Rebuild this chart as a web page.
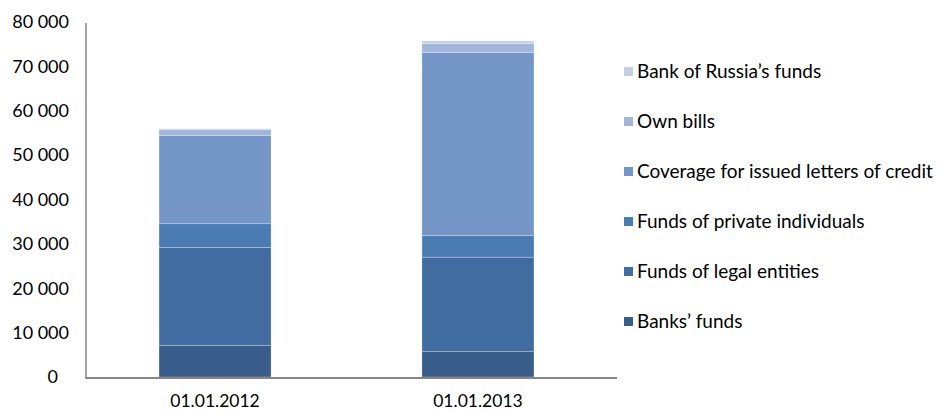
<!DOCTYPE html>
<html>
<head>
<meta charset="utf-8">
<script src="https://cdn.jsdelivr.net/npm/d3@7"></script>
<style>
  body { margin: 0; background: #fff; }
  text { font-family: Lato, "Open Sans", sans-serif; fill: #000; }
</style>
</head>
<body>
<div id="chart"></div>
<script>
const width = 947;
const height = 412;
const margin = { top: 22, right: 330, bottom: 35, left: 87 };
const axisEnd = 617;

// data, bottom segment first
const dates = ["01.01.2012", "01.01.2013"];
const seriesNames = [
  "Banks’ funds",
  "Funds of legal entities",
  "Funds of private individuals",
  "Coverage for issued letters of credit",
  "Own bills",
  "Bank of Russia’s funds",
];
const banksFunds = [7150, 5800];
const legalEntities = [22050, 21200];
const privateIndividuals = [5350, 4850];
const lettersOfCredit = [19900, 41250];
const ownBills = [1350, 2050];
const bankOfRussia = [150, 600];
const yTicks = [0, 10000, 20000, 30000, 40000, 50000, 60000, 70000, 80000];

const colors = ["#385d8a", "#416ca0", "#4a7bb3", "#7396c6", "#a3b5d8", "#c5d0e6"];

const seriesValues = [banksFunds, legalEntities, privateIndividuals, lettersOfCredit, ownBills, bankOfRussia];
const rows = dates.map((d, i) => {
  const r = { date: d };
  seriesNames.forEach((s, j) => (r[s] = seriesValues[j][i]));
  return r;
});
const stacked = d3.stack().keys(seriesNames)(rows);

const svg = d3
  .select("#chart")
  .append("svg")
  .attr("width", width)
  .attr("height", height);

const xScale = d3
  .scaleBand()
  .domain(dates)
  .range([margin.left, 606])
  .paddingInner(0.574)
  .paddingOuter(0.274);

const yScale = d3
  .scaleLinear()
  .domain([0, 80000])
  .range([height - margin.bottom, margin.top]);

const fmt = (v) => d3.format(",")(v).replace(/,/g, " ");

// y tick labels (no tick marks)
svg
  .append("g")
  .selectAll("text")
  .data(yTicks)
  .join("text")
  .attr("x", (d) => (d === 0 ? 58 : 69))
  .attr("y", (d) => yScale(d))
  .attr("dy", "0.35em")
  .attr("text-anchor", "end")
  .style("font-size", "18px")
  .text(fmt);

const groups = svg
  .append("g")
  .selectAll("g")
  .data(stacked)
  .join("g")
  .attr("fill", (d, i) => colors[i]);

groups
  .selectAll("rect")
  .data((d) => d.map((v, i) => ({ v, date: dates[i] })))
  .join("rect")
  .attr("x", (d) => xScale(d.date))
  .attr("width", xScale.bandwidth())
  .attr("y", (d) => yScale(d.v[1]))
  .attr("height", (d) => yScale(d.v[0]) - yScale(d.v[1]))
  .attr("stroke", "#ffffff")
  .attr("stroke-opacity", 0.3)
  .attr("stroke-width", 0.8);

// axes lines
svg
  .append("line")
  .attr("x1", margin.left - 1)
  .attr("x2", margin.left - 1)
  .attr("y1", yScale(80000) + 1)
  .attr("y2", yScale(0) + 1)
  .attr("stroke", "#868686")
  .attr("stroke-width", 1.5);

svg
  .append("line")
  .attr("x1", margin.left - 1.75)
  .attr("x2", axisEnd)
  .attr("y1", yScale(0) + 1)
  .attr("y2", yScale(0) + 1)
  .attr("stroke", "#868686")
  .attr("stroke-width", 2);

svg
  .append("g")
  .selectAll("text")
  .data(dates)
  .join("text")
  .attr("x", (d) => xScale(d) + xScale.bandwidth() / 2)
  .attr("y", 407)
  .attr("text-anchor", "middle")
  .style("font-size", "17.5px")
  .text((d) => d);

// legend, top entry is last series
const legendData = seriesNames.map((s, i) => ({ name: s, color: colors[i] })).reverse();
const legend = svg
  .append("g")
  .selectAll("g")
  .data(legendData)
  .join("g")
  .attr("transform", (d, i) => `translate(624, ${71.5 + i * 50})`);

legend
  .append("rect")
  .attr("x", 0)
  .attr("y", -4.5)
  .attr("width", 9)
  .attr("height", 9)
  .attr("fill", (d) => d.color);

legend
  .append("text")
  .attr("x", 13)
  .attr("dy", "0.35em")
  .style("font-size", "19px")
  .text((d) => d.name);
</script>
</body>
</html>
